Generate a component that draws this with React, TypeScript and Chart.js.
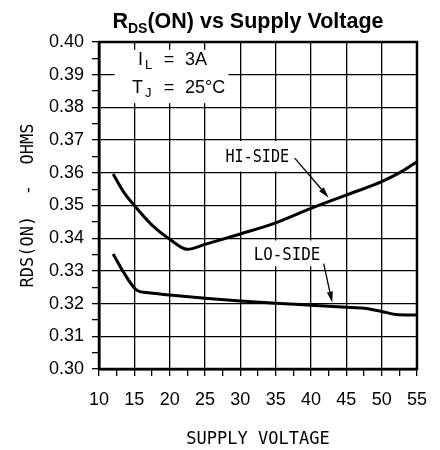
import React, { useEffect, useRef } from "react";
import { Chart, registerables } from "chart.js";

Chart.register(...registerables);

// ---------- data ----------
const hiSideVoltage = [12, 13.5, 15, 17.5, 20, 22.5, 25, 30, 35, 40, 45, 50, 53, 55];
const hiSideRds = [0.3596, 0.3541, 0.35, 0.344, 0.3397, 0.3366, 0.3381, 0.3413, 0.3447, 0.3491, 0.3532, 0.3573, 0.3606, 0.3634];

const loSideVoltage = [12, 13.5, 15.4, 17, 20, 25, 30, 35, 40, 45, 47.5, 50, 52, 55];
const loSideRds = [0.3352, 0.3295, 0.324, 0.3233, 0.3226, 0.3216, 0.3208, 0.3201, 0.3195, 0.3189, 0.3186, 0.3176, 0.3167, 0.3165];

const seriesLabels = ["HI-SIDE", "LO-SIDE"];
const xTickLabels = ["10", "15", "20", "25", "30", "35", "40", "45", "50", "55"];
const yTickLabels = ["0.30", "0.31", "0.32", "0.33", "0.34", "0.35", "0.36", "0.37", "0.38", "0.39", "0.40"];
const xRange = [10, 55];
const yRange = [0.3, 0.4];
const xMinorStep = 2.5;
const yMinorStep = 0.005;

const titleMain = "R";
const titleSub = "DS";
const titleRest = "(ON) vs Supply Voltage";
const xAxisTitle = "SUPPLY VOLTAGE";
const yAxisTitle = "RDS(ON)  -  OHMS";
const conditionLines = [
  { sym: "I", sub: "L", value: "3A" },
  { sym: "T", sub: "J", value: "25°C" },
];

// annotation anchors in data coordinates
const conditionBox = { x0: 12.2, x1: 28.3, y0: 0.3976, y1: 0.3813 };
const conditionBaselines = [0.393, 0.3845];
const conditionEqX = 19.9;
const hiLabelPos = { x: 32.4, y: 0.3647 };
const hiBox = { x0: 25.2, x1: 39.8, y0: 0.3697, y1: 0.3604 };
const hiArrow = { x0: 37.7, y0: 0.3645, x1: 42.5, y1: 0.3524 };
const loLabelPos = { x: 36.6, y: 0.3346 };
const loBox = { x0: 31.5, x1: 41.7, y0: 0.3393, y1: 0.3314 };
const loArrow = { x0: 41.8, y0: 0.3322, x1: 43.0, y1: 0.3203 };

const SANS = "'Liberation Sans', Arial, sans-serif";
const MONO = "'DejaVu Sans Mono', monospace";

function drawArrow(ctx: CanvasRenderingContext2D, x0: number, y0: number, x1: number, y1: number) {
  const ang = Math.atan2(y1 - y0, x1 - x0);
  const len = 11;
  const hw = 3;
  ctx.beginPath();
  ctx.moveTo(x0, y0);
  ctx.lineTo(x1 - Math.cos(ang) * len * 0.8, y1 - Math.sin(ang) * len * 0.8);
  ctx.lineWidth = 1.3;
  ctx.strokeStyle = "#000";
  ctx.stroke();
  ctx.beginPath();
  ctx.moveTo(x1, y1);
  ctx.lineTo(x1 - Math.cos(ang) * len - Math.sin(ang) * hw, y1 - Math.sin(ang) * len + Math.cos(ang) * hw);
  ctx.lineTo(x1 - Math.cos(ang) * len + Math.sin(ang) * hw, y1 - Math.sin(ang) * len - Math.cos(ang) * hw);
  ctx.closePath();
  ctx.fillStyle = "#000";
  ctx.fill();
}

function whiteBox(ctx: CanvasRenderingContext2D, x: any, y: any, b: { x0: number; x1: number; y0: number; y1: number }) {
  const bx0 = x.getPixelForValue(b.x0);
  const bx1 = x.getPixelForValue(b.x1);
  const by0 = y.getPixelForValue(b.y0);
  const by1 = y.getPixelForValue(b.y1);
  ctx.fillRect(bx0, by0, bx1 - bx0, by1 - by0);
}

function condensedText(ctx: CanvasRenderingContext2D, text: string, cx: number, cy: number, sx: number) {
  ctx.save();
  ctx.translate(cx, cy);
  ctx.scale(sx, 1);
  ctx.fillText(text, 0, 0);
  ctx.restore();
}

const annotatePlugin = {
  id: "annotate",
  beforeDatasetsDraw(chart: any) {
    const { ctx } = chart;
    const x = chart.scales.x;
    const y = chart.scales.y;
    ctx.save();
    ctx.fillStyle = "#fff";
    whiteBox(ctx, x, y, conditionBox);
    whiteBox(ctx, x, y, hiBox);
    whiteBox(ctx, x, y, loBox);
    ctx.restore();
  },
  afterDatasetsDraw(chart: any) {
    const { ctx, chartArea } = chart;
    const x = chart.scales.x;
    const y = chart.scales.y;
    ctx.save();
    // frame
    ctx.strokeStyle = "#000";
    ctx.lineWidth = 2.5;
    ctx.strokeRect(chartArea.left, chartArea.top, chartArea.right - chartArea.left, chartArea.bottom - chartArea.top);

    // series labels
    ctx.fillStyle = "#000";
    ctx.font = `17px ${MONO}`;
    ctx.textAlign = "center";
    ctx.textBaseline = "middle";
    condensedText(ctx, seriesLabels[0], x.getPixelForValue(hiLabelPos.x), y.getPixelForValue(hiLabelPos.y), 0.89);
    condensedText(ctx, seriesLabels[1], x.getPixelForValue(loLabelPos.x), y.getPixelForValue(loLabelPos.y), 0.93);
    drawArrow(ctx, x.getPixelForValue(hiArrow.x0), y.getPixelForValue(hiArrow.y0), x.getPixelForValue(hiArrow.x1), y.getPixelForValue(hiArrow.y1));
    drawArrow(ctx, x.getPixelForValue(loArrow.x0), y.getPixelForValue(loArrow.y0), x.getPixelForValue(loArrow.x1), y.getPixelForValue(loArrow.y1));

    // condition lines
    const eqX = x.getPixelForValue(conditionEqX);
    conditionLines.forEach((line, i) => {
      const by = y.getPixelForValue(conditionBaselines[i]);
      ctx.textBaseline = "alphabetic";
      ctx.font = `18px ${SANS}`;
      ctx.textAlign = "center";
      ctx.fillText("=", eqX, by);
      ctx.textAlign = "left";
      ctx.fillText(line.value, eqX + 16, by);
      ctx.textAlign = "right";
      ctx.fillText(line.sym, eqX - 26, by);
      ctx.font = `13px ${SANS}`;
      ctx.textAlign = "left";
      ctx.fillText(line.sub, eqX - 24, by + 4);
    });
    ctx.restore();
  },
  afterDraw(chart: any) {
    const { ctx } = chart;
    ctx.save();
    ctx.fillStyle = "#000";
    ctx.textBaseline = "alphabetic";
    ctx.textAlign = "left";
    const big = `bold 21.5px ${SANS}`;
    const small = `bold 14px ${SANS}`;
    ctx.font = big;
    const w1 = ctx.measureText(titleMain).width;
    const w3 = ctx.measureText(titleRest).width;
    ctx.font = small;
    const w2 = ctx.measureText(titleSub).width;
    const total = w1 + w2 + w3;
    const cx = 248;
    const base = 28;
    let sx = cx - total / 2;
    ctx.font = big;
    ctx.fillText(titleMain, sx, base);
    sx += w1;
    ctx.font = small;
    ctx.fillText(titleSub, sx, base + 5);
    sx += w2;
    ctx.font = big;
    ctx.fillText(titleRest, sx, base);
    ctx.restore();
  },
};

export default function App() {
  const canvasRef = useRef<HTMLCanvasElement | null>(null);

  useEffect(() => {
    const canvas = canvasRef.current;
    if (!canvas) return;
    const chart = new Chart(canvas, {
      type: "line",
      data: {
        datasets: [
          {
            label: seriesLabels[0],
            data: hiSideVoltage.map((v, i) => ({ x: v, y: hiSideRds[i] })),
            borderColor: "#000",
            borderWidth: 3,
            pointRadius: 0,
            cubicInterpolationMode: "monotone",
            fill: false,
          },
          {
            label: seriesLabels[1],
            data: loSideVoltage.map((v, i) => ({ x: v, y: loSideRds[i] })),
            borderColor: "#000",
            borderWidth: 3,
            pointRadius: 0,
            cubicInterpolationMode: "monotone",
            fill: false,
          },
        ],
      },
      options: {
        responsive: false,
        animation: false,
        devicePixelRatio: 1,
        layout: { padding: { left: 8, right: 14, top: 42, bottom: 0 } },
        plugins: { legend: { display: false }, tooltip: { enabled: false }, title: { display: false } },
        scales: {
          x: {
            type: "linear",
            min: xRange[0],
            max: xRange[1],
            afterFit: (s: any) => {
              s.height = 81;
            },
            ticks: {
              stepSize: xMinorStep,
              autoSkip: false,
              maxRotation: 0,
              padding: 13,
              color: "#000",
              font: { family: SANS, size: 18 },
              callback: (v: any) => {
                const s = String(Math.round(Number(v) * 100) / 100);
                return xTickLabels.includes(s) ? s : "";
              },
            },
            grid: {
              color: (c: any) =>
                c.tick && xTickLabels.includes(String(c.tick.value)) ? "#000" : "rgba(0,0,0,0)",
              tickColor: "#000",
              tickLength: 7,
              lineWidth: 1.3,
              tickWidth: 1.3,
            },
            border: { display: true, color: "#000", width: 2.5 },
            title: {
              display: true,
              text: xAxisTitle,
              color: "#000",
              font: { family: MONO, size: 17 },
              padding: { top: 0, bottom: 0 },
            },
          },
          y: {
            type: "linear",
            min: yRange[0],
            max: yRange[1],
            afterFit: (s: any) => {
              s.width = 91;
            },
            ticks: {
              stepSize: yMinorStep,
              autoSkip: false,
              padding: 8,
              color: "#000",
              font: { family: SANS, size: 18 },
              callback: (v: any) => {
                const s = Number(v).toFixed(3);
                const lbl = Number(v).toFixed(2);
                return s.endsWith("0") && yTickLabels.includes(lbl) ? lbl : "";
              },
            },
            grid: {
              color: (c: any) => {
                if (!c.tick) return "rgba(0,0,0,0)";
                const s = Number(c.tick.value).toFixed(3);
                return s.endsWith("0") ? "#000" : "rgba(0,0,0,0)";
              },
              tickColor: "#000",
              tickLength: 7,
              lineWidth: 1.3,
              tickWidth: 1.3,
            },
            border: { display: true, color: "#000", width: 2.5 },
            title: {
              display: true,
              text: yAxisTitle,
              color: "#000",
              font: { family: MONO, size: 17 },
              padding: { top: 10, bottom: 0 },
            },
          },
        },
      },
      plugins: [annotatePlugin],
    } as any);
    return () => chart.destroy();
  }, []);

  return (
    <div style={{ position: "absolute", left: 0, top: 0, width: 440, height: 450, background: "#fff" }}>
      <canvas ref={canvasRef} width={440} height={450} style={{ display: "block" }} />
    </div>
  );
}
